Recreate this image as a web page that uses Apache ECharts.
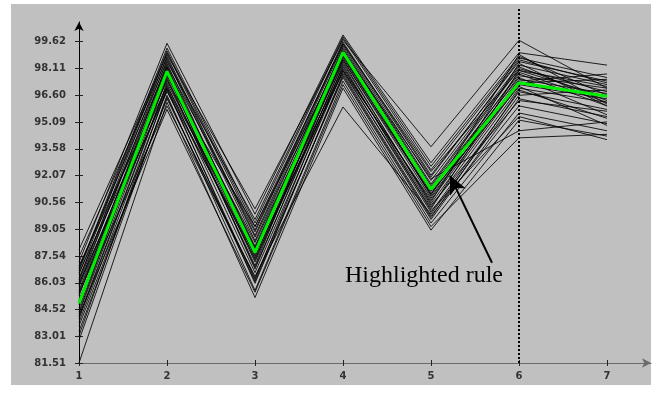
<!DOCTYPE html>
<html>
<head>
<meta charset="utf-8">
<script src="https://cdn.jsdelivr.net/npm/echarts@6/dist/echarts.min.js"></script>
<style>
  html, body { margin: 0; padding: 0; background: #fff; }
  #chart { width: 661px; height: 393px; }
</style>
</head>
<body>
<div id="chart"></div>
<script>
// axis positions and tick labels
const xPositions = [1, 2, 3, 4, 5, 6, 7];
const yTicks = [81.51, 83.01, 84.52, 86.03, 87.54, 89.05, 90.56, 92.07, 93.58, 95.09, 96.60, 98.11, 99.62];

// one row per rule, one value per position
const rules = [
  [81.51, 96.2, 85.2, 97.0, 89.0, 95.2, 94.3],
  [82.8, 96.6, 85.6, 97.4, 89.4, 95.6, 94.6],
  [83.05, 97.0, 86.0, 97.8, 89.8, 96.0, 95.0],
  [83.6, 96.4, 86.3, 97.6, 89.6, 96.4, 95.4],
  [84.0, 97.2, 86.6, 98.0, 90.0, 96.8, 95.8],
  [84.3, 97.6, 86.9, 98.2, 90.3, 97.0, 96.2],
  [84.6, 97.8, 87.2, 98.4, 90.5, 97.2, 96.4],
  [85.0, 98.2, 87.5, 98.6, 90.8, 97.5, 96.7],
  [85.3, 98.4, 87.8, 98.8, 91.0, 97.7, 97.0],
  [85.6, 98.0, 88.1, 99.0, 91.2, 97.9, 96.2],
  [85.9, 98.6, 88.4, 99.2, 91.5, 98.1, 96.8],
  [86.2, 98.8, 88.7, 99.4, 91.8, 98.3, 97.2],
  [86.5, 99.0, 89.0, 99.6, 92.1, 98.5, 97.4],
  [86.8, 99.26, 89.4, 99.8, 92.4, 98.7, 97.6],
  [87.2, 99.53, 89.9, 100.0, 92.8, 99.0, 98.3],
  [87.9, 98.9, 90.2, 99.7, 93.7, 99.7, 97.0],
  [87.0, 97.4, 89.2, 98.9, 91.3, 97.6, 95.5],
  [86.6, 97.1, 88.0, 98.1, 90.6, 98.4, 96.0],
  [86.0, 96.8, 87.6, 97.9, 90.2, 98.0, 96.5],
  [85.5, 97.5, 87.0, 99.1, 90.9, 97.4, 97.8],
  [85.1, 96.0, 86.4, 95.94, 89.9, 96.6, 96.9],
  [84.8, 97.9, 86.8, 98.5, 90.4, 96.3, 95.7],
  [84.4, 98.1, 87.3, 98.7, 91.1, 97.1, 94.9],
  [84.1, 97.3, 87.9, 99.3, 91.6, 98.2, 96.3],
  [83.8, 96.9, 86.2, 98.3, 90.1, 95.4, 94.1],
  [86.3, 98.3, 88.9, 99.5, 92.0, 98.6, 97.3],
  [86.9, 98.5, 89.6, 99.9, 92.6, 98.8, 96.6],
  [85.8, 97.7, 88.3, 98.8, 91.4, 97.8, 96.0],
  [87.5, 98.7, 88.6, 99.1, 91.9, 94.6, 95.1],
  [84.2, 95.8, 85.5, 97.2, 89.2, 94.2, 94.4],
  [85.4, 97.0, 87.4, 98.0, 90.7, 97.3, 97.5],
  [86.1, 98.2, 88.0, 98.6, 91.0, 98.9, 96.1],
  [83.3, 96.5, 86.1, 97.7, 89.7, 96.9, 95.3],
  [86.7, 99.1, 89.2, 99.5, 92.3, 98.0, 97.1]
];
const highlighted = [84.88, 97.95, 87.75, 99.02, 91.3, 97.3, 96.55];

// annotation
const splitX = 6;
const splitTop = 101.51;
const arrowFrom = [5.693, 87.16];
const arrowTo = [5.216, 92.06];
const noteText = 'Highlighted rule';

const Y_MIN = 81.51, Y_MAX = 100.73, X_MIN = 1, X_MAX = 7.5;

const chart = echarts.init(document.getElementById('chart'));

const toPoints = vals => vals.map((v, i) => [xPositions[i], v]);

const series = rules.map(r => ({
  type: 'line',
  data: toPoints(r),
  symbol: 'none',
  silent: true,
  z: 2,
  lineStyle: { color: '#000', width: 1, opacity: 0.85 }
}));

series.push({
  type: 'line',
  data: toPoints(highlighted),
  symbol: 'none',
  silent: true,
  z: 5,
  lineStyle: { color: '#00ee00', width: 3 },
  markLine: {
    silent: true,
    animation: false,
    label: { show: false },
    data: [
      [{ coord: arrowFrom, symbol: 'none', lineStyle: { type: 'solid', width: 2, color: '#000' } },
       { coord: arrowTo, symbol: 'arrow', symbolSize: [13, 18] }]
    ]
  }
});

// dotted separator, in a taller overlay grid so it reaches the top of the panel
series.push({
  type: 'line',
  xAxisIndex: 2,
  yAxisIndex: 2,
  data: [[splitX, Y_MIN], [splitX, splitTop]],
  symbol: 'none',
  silent: true,
  z: 4,
  lineStyle: { type: 'dotted', width: 2, color: '#000' }
});

const labelFont = { fontFamily: 'DejaVu Sans', fontWeight: 'bold', fontSize: 10, color: '#333' };
const hidden = { splitLine: { show: false }, axisLine: { show: false }, axisTick: { show: false }, axisLabel: { show: false } };

chart.setOption({
  animation: false,
  backgroundColor: '#fff',
  grid: [
    { left: 79, right: 10, top: 22, bottom: 30 },
    { left: 79, right: 10, top: 8, bottom: 30 }
  ],
  xAxis: [{
    type: 'value', min: X_MIN, max: X_MAX, position: 'bottom',
    splitLine: { show: false },
    axisLine: { lineStyle: { color: '#6a6a6a', width: 1 }, symbol: ['none', 'arrow'], symbolSize: [7, 9] },
    axisTick: { customValues: xPositions, length: 3, lineStyle: { color: '#222' } },
    axisLabel: Object.assign({ customValues: xPositions, margin: 8 }, labelFont)
  }, {
    type: 'value', min: X_MIN, max: X_MAX, position: 'bottom',
    splitLine: { show: false },
    axisLine: { show: false },
    axisTick: { customValues: xPositions, inside: true, length: 3, lineStyle: { color: '#222' } },
    axisLabel: { show: false }
  }, Object.assign({ type: 'value', gridIndex: 1, min: X_MIN, max: X_MAX }, hidden)],
  yAxis: [{
    type: 'value', min: Y_MIN, max: Y_MAX, position: 'left',
    splitLine: { show: false },
    axisLine: { show: true, lineStyle: { color: '#000', width: 1 }, symbol: ['none', 'arrow'], symbolSize: [7, 9] },
    axisTick: { show: true, customValues: yTicks, length: 4, lineStyle: { color: '#222' } },
    axisLabel: Object.assign({ customValues: yTicks, margin: 13, formatter: v => v.toFixed(2) }, labelFont)
  }, {
    type: 'value', min: Y_MIN, max: Y_MAX, position: 'left',
    splitLine: { show: false },
    axisLine: { show: false },
    axisTick: { show: true, customValues: yTicks, inside: true, length: 4, lineStyle: { color: '#222' } },
    axisLabel: { show: false }
  }, Object.assign({ type: 'value', gridIndex: 1, min: Y_MIN, max: splitTop }, hidden)],
  graphic: [
    { type: 'rect', z: -10, shape: { x: 11, y: 4, width: 640, height: 381 }, style: { fill: '#c0c0c0' } },
    { type: 'text', z: 10, left: 345, top: 264,
      style: { text: noteText, font: '24px "Liberation Serif"', fill: '#000' } }
  ],
  series
});
</script>
</body>
</html>
